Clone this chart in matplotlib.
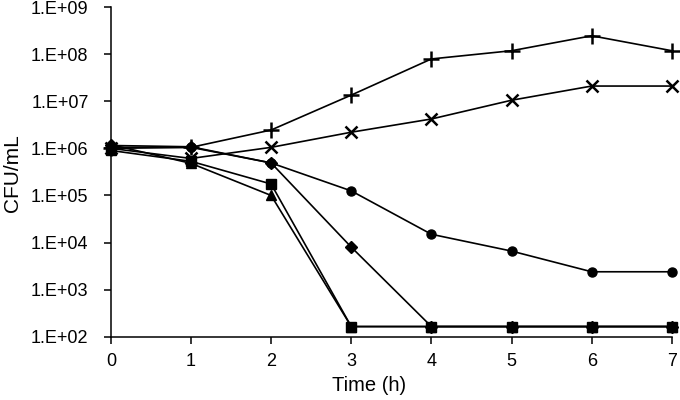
import math
import matplotlib
matplotlib.use('Agg')
import matplotlib.pyplot as plt
from matplotlib.ticker import FixedLocator, FuncFormatter, NullLocator

plt.rcParams['font.family'] = ['Liberation Sans', 'DejaVu Sans']

# Data (CFU/mL)
hours = [0, 1, 2, 3, 4, 5, 6, 7]
plus_vals = [1.0e6, 1.05e6, 2.45e6, 1.35e7, 7.9e7, 1.18e8, 2.45e8, 1.18e8]
cross_vals = [1.0e6, 6.1e5, 1.05e6, 2.2e6, 4.2e6, 1.05e7, 2.1e7, 2.1e7]
circle_vals = [1.05e6, 1.05e6, 4.9e5, 1.25e5, 1.5e4, 6.6e3, 2.4e3, 2.4e3]
diamond_vals = [1.15e6, 1.08e6, 4.9e5, 8.0e3, 1.65e2, 1.65e2, 1.65e2, 1.65e2]
square_vals = [9.0e5, 5.3e5, 1.75e5, 1.65e2, 1.65e2, 1.65e2, 1.65e2, 1.65e2]
triangle_vals = [1.2e6, 4.8e5, 1.0e5, 1.65e2, 1.65e2, 1.65e2, 1.65e2, 1.65e2]

y_ticks = [1e2, 1e3, 1e4, 1e5, 1e6, 1e7, 1e8, 1e9]

fig = plt.figure(figsize=(6.8, 4.0), dpi=100)
ax = fig.add_axes([0.163, 0.158, 0.825, 0.8245])

kw = dict(color='black', linewidth=1.2)
ax.plot(hours, triangle_vals, marker='^', markersize=7, **kw)
ax.plot(hours, square_vals, marker='s', markersize=6.5, **kw)
ax.plot(hours, diamond_vals, marker='D', markersize=6.5, **kw)
ax.plot(hours, circle_vals, marker='o', markersize=6.5, **kw)
ax.plot(hours, cross_vals, marker='x', markersize=8, markeredgewidth=1.8, **kw)
ax.plot(hours, plus_vals, marker='+', markersize=12, markeredgewidth=1.8, **kw)

ax.set_yscale('log')
ax.set_ylim(1e2, 1e9)
ax.set_xlim(0, 7)
ax.yaxis.set_major_locator(FixedLocator(y_ticks))
ax.yaxis.set_minor_locator(NullLocator())
ax.yaxis.set_major_formatter(FuncFormatter(lambda v, p: '1.E+%02d' % round(math.log10(v))))
ax.set_xticks(hours)

for s in ['top', 'right']:
    ax.spines[s].set_visible(False)
for s in ['left', 'bottom']:
    ax.spines[s].set_linewidth(1.1)
ax.tick_params(direction='out', length=5, width=1.1, labelsize=13, colors='black')
ax.tick_params(axis='y', pad=11)
ax.tick_params(axis='x', pad=7)
for ln in ax.lines:
    ln.set_clip_on(False)

# label positions (slightly left of centre, like the original)
ax.set_xlabel('Time (h)', fontsize=14.5, va='center')
ax.set_ylabel('CFU/mL', fontsize=15, va='center')
ax.xaxis.set_label_coords(0.461, -0.148)
ax.yaxis.set_label_coords(-0.176, 0.497)

fig.savefig('out.png', dpi=100)
